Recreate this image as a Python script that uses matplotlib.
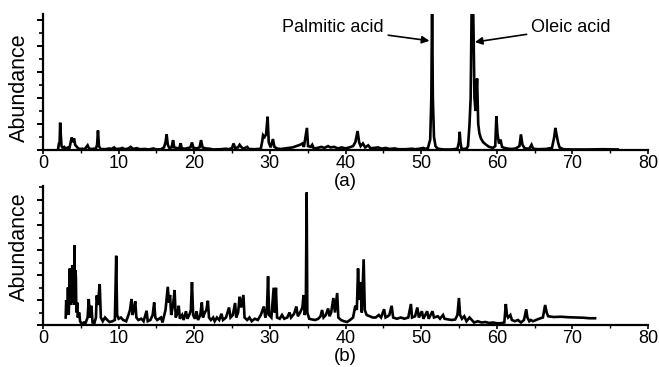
import matplotlib
matplotlib.use("Agg")
import matplotlib.pyplot as plt
from matplotlib.ticker import MultipleLocator, NullFormatter

plt.rcParams['font.family'] = ['Liberation Sans', 'DejaVu Sans']

# ---- data: panel (a) chromatogram trace (retention time, abundance) ----
time_a = [2.0, 2.1, 2.2, 2.27, 2.35, 2.45, 2.6, 2.8, 3.0, 3.3, 3.5, 3.8, 3.95, 4.1, 4.25, 4.4, 4.6, 4.8,
          5.2, 5.5, 5.9, 6.1, 6.5, 7.0, 7.15, 7.27, 7.4, 7.6, 8.2, 8.8, 9.0, 9.4, 9.6, 10.2, 10.5, 10.8,
          11.3, 11.6, 11.9, 12.4, 12.8, 13.5, 14.0, 14.6, 15.0, 15.6, 16.0, 16.2, 16.35, 16.5, 16.7,
          17.0, 17.2, 17.35, 17.6, 18.0, 18.2, 18.35, 18.8, 19.5, 19.7, 19.9, 20.3, 20.7, 20.9, 21.1,
          21.5, 22.0, 22.5, 23.5, 24.2, 24.6, 25.0, 25.2, 25.4, 25.8, 26.0, 26.2, 26.5, 27.0, 27.2,
          28.0, 28.8, 29.0, 29.1, 29.3, 29.5, 29.7, 29.85, 30.1, 30.4, 30.6, 31.0, 31.5, 32.0, 32.5,
          33.0, 33.5, 34.0, 34.3, 34.5, 34.9, 35.05, 35.4, 35.6, 35.8, 36.3, 36.8, 37.2, 37.7, 38.0,
          38.5, 39.0, 39.5, 40.0, 40.5, 41.0, 41.3, 41.6, 41.8, 42.0, 42.3, 42.6, 43.0, 43.3, 43.8,
          44.3, 44.8, 45.3, 45.8, 46.5, 47.0, 48.0, 48.8, 49.2, 49.8, 50.3, 50.6, 50.9, 51.2, 51.35,
          51.45, 51.55, 51.7, 51.9, 52.2, 53.0, 54.0, 54.8, 55.0, 55.1, 55.2, 55.35, 56.0, 56.2, 56.4,
          56.55, 56.7, 56.85, 56.95, 57.05, 57.2, 57.4, 57.55, 57.7, 57.9, 58.2, 58.6, 59.0, 59.5,
          59.8, 59.95, 60.1, 60.3, 60.5, 60.7, 61.0, 61.5, 62.0, 62.5, 63.0, 63.2, 63.4, 63.7, 64.3,
          64.6, 64.8, 65.5, 66.5, 67.3, 67.6, 67.75, 67.9, 68.1, 68.3, 68.8, 70.0, 72.0, 74.0, 76.0]
abund_a = [0.03, 0.25, 0.3, 1.05, 0.6, 0.15, 0.08, 0.12, 0.05, 0.1, 0.08, 0.48, 0.3, 0.45, 0.2, 0.15, 0.08, 0.04,
           0.05, 0.03, 0.18, 0.05, 0.04, 0.06, 0.2, 0.75, 0.15, 0.04, 0.03, 0.06, 0.03, 0.1, 0.04, 0.05, 0.08, 0.03,
           0.06, 0.12, 0.04, 0.07, 0.03, 0.04, 0.02, 0.06, 0.02, 0.03, 0.1, 0.3, 0.6, 0.2, 0.08,
           0.1, 0.38, 0.1, 0.08, 0.05, 0.26, 0.06, 0.05, 0.1, 0.29, 0.08, 0.06, 0.1, 0.38, 0.1,
           0.06, 0.05, 0.02, 0.03, 0.05, 0.03, 0.08, 0.25, 0.08, 0.1, 0.2, 0.12, 0.05, 0.12, 0.04,
           0.03, 0.05, 0.35, 0.57, 0.5, 0.6, 1.28, 0.3, 0.1, 0.42, 0.12, 0.05, 0.04, 0.06, 0.08,
           0.1, 0.15, 0.2, 0.25, 0.12, 0.85, 0.15, 0.12, 0.2, 0.06, 0.08, 0.12, 0.08, 0.15, 0.1,
           0.12, 0.06, 0.1, 0.06, 0.1, 0.15, 0.3, 0.73, 0.3, 0.15, 0.25, 0.1, 0.18, 0.07, 0.08,
           0.1, 0.05, 0.08, 0.04, 0.06, 0.03, 0.03, 0.05, 0.03, 0.05, 0.08, 0.04, 0.08, 0.4, 2.0,
           5.8, 2.0, 0.5, 0.15, 0.05, 0.02, 0.02, 0.05, 0.3, 0.7, 0.3, 0.04, 0.05, 0.15, 1.0,
           2.0, 6.0, 6.0, 4.2, 2.0, 1.5, 2.75, 1.0, 0.65, 0.45, 0.3, 0.2, 0.12, 0.08,
           0.15, 1.3, 0.6, 0.25, 0.4, 0.12, 0.08, 0.05, 0.04, 0.06, 0.15, 0.6, 0.2, 0.06, 0.05,
           0.2, 0.05, 0.03, 0.04, 0.08, 0.5, 0.85, 0.6, 0.3, 0.1, 0.03, 0.02, 0.02, 0.03, 0.02]

# ---- data: panel (b) chromatogram trace ----
time_b = [3.0, 3.07, 3.12, 3.15, 3.22, 3.3, 3.35, 3.4, 3.47, 3.54, 3.6, 3.65, 3.7, 3.75, 3.8, 3.87, 3.95,
          4.0, 4.05, 4.1, 4.16, 4.2, 4.25, 4.3, 4.35, 4.4, 4.45, 4.52, 4.6, 4.7, 4.8,
          4.9, 5.1, 5.4, 5.6, 5.9, 6.05, 6.2, 6.4, 6.55, 6.8, 7.0, 7.1, 7.25, 7.5, 7.65, 7.9, 8.2, 8.5,
          8.8, 9.2, 9.5, 9.68, 9.8, 10.0, 10.3, 10.6, 11.0, 11.3, 11.5, 11.7, 11.85, 12.0, 12.2, 12.35,
          12.6, 13.0, 13.3, 13.7, 13.85, 14.2, 14.5, 14.7, 14.85, 15.1, 15.6, 15.8, 16.2, 16.5, 16.65,
          16.8, 16.95, 17.2, 17.4, 17.55, 17.8, 17.95, 18.1, 18.4, 18.6, 18.9, 19.1, 19.4, 19.55, 19.7,
          19.85, 20.1, 20.3, 20.5, 20.8, 21.0, 21.15, 21.4, 21.6, 21.8, 21.95, 22.2, 22.5, 22.7, 23.0,
          23.3, 23.6, 23.8, 24.2, 24.4, 24.6, 24.8, 25.1, 25.4, 25.55, 25.8, 26.0, 26.2, 26.5, 26.65,
          27.0, 27.3, 27.6, 28.0, 28.4, 28.8, 29.2, 29.4, 29.6, 29.76, 29.9, 30.2, 30.5, 30.65, 30.8,
          30.95, 31.3, 31.6, 31.9, 32.3, 32.6, 32.8, 33.2, 33.5, 33.7, 34.0, 34.3, 34.45, 34.6, 34.75,
          34.86, 34.95, 35.2, 35.6, 36.0, 36.4, 36.7, 36.9, 37.1, 37.4, 37.7, 37.9, 38.1, 38.4, 38.6,
          38.9, 39.05, 39.4, 39.8, 40.2, 40.6, 41.0, 41.3, 41.5, 41.66, 41.8, 42.0, 42.15, 42.4, 42.55,
          42.8, 43.2, 43.6, 44.0, 44.4, 44.7, 45.1, 45.3, 45.6, 45.8, 46.1, 46.3, 46.8, 47.3, 47.8,
          48.3, 48.65, 48.8, 49.2, 49.5, 49.7, 50.1, 50.3, 50.8, 51.0, 51.5, 51.7, 52.2, 52.5, 52.9,
          53.1, 53.6, 54.0, 54.5, 54.8, 55.0, 55.15, 55.4, 55.7, 56.0, 56.4, 56.7, 57.0, 57.5, 58.0,
          58.5, 59.0, 59.5, 60.0, 60.5, 61.0, 61.2, 61.35, 61.5, 61.8, 62.0, 62.4, 62.8, 63.2, 63.6,
          63.9, 64.05, 64.3, 64.5, 64.8, 65.2, 65.6, 66.1, 66.4, 66.6, 66.8, 67.5, 68.5, 69.5, 70.5,
          71.5, 72.2, 73.0]
abund_b = [0.3, 1.0, 0.5, 0.9, 0.4, 1.5, 0.7, 0.4, 1.2, 2.26, 1.0, 0.8, 1.3, 1.8, 1.1, 2.4, 0.9,
           1.3, 1.5, 0.8, 3.2, 1.6, 1.2, 2.2, 1.9, 0.8, 0.5, 0.9, 0.3, 0.45, 0.5,
           0.15, 0.05, 0.1, 0.06, 0.3, 1.04, 0.3, 0.77, 0.1, 0.08, 0.3, 1.18, 0.8, 1.64, 0.3, 0.15, 0.3, 0.2,
           0.12, 0.15, 0.2, 2.77, 0.4, 0.25, 0.3, 0.2, 0.15, 0.4, 0.6, 1.04, 0.4, 0.6, 0.95, 0.3,
           0.2, 0.25, 0.15, 0.57, 0.15, 0.2, 0.4, 0.9, 0.3, 0.2, 0.3, 0.1, 0.6, 1.53, 0.9,
           1.2, 0.4, 0.8, 1.4, 0.3, 0.5, 0.77, 0.25, 0.4, 0.2, 0.55, 0.25, 0.45, 0.6, 1.72,
           0.4, 0.25, 0.55, 0.2, 0.4, 0.9, 0.3, 0.5, 0.6, 0.97, 0.3, 0.2, 0.3, 0.15, 0.3,
           0.2, 0.45, 0.2, 0.3, 0.5, 0.7, 0.3, 0.4, 0.88, 0.3, 0.5, 1.13, 0.7, 1.2, 0.3,
           0.2, 0.3, 0.15, 0.25, 0.2, 0.4, 0.74, 0.3, 0.5, 1.95, 0.4, 0.3, 1.49, 0.5, 1.49,
           0.3, 0.25, 0.4, 0.25, 0.3, 0.5, 0.3, 0.45, 0.74, 0.35, 0.5, 0.7, 1.2, 0.4, 0.6,
           5.3, 0.5, 0.25, 0.22, 0.2, 0.25, 0.35, 0.6, 0.3, 0.4, 0.66, 0.35, 0.5, 1.08, 0.5,
           1.28, 0.3, 0.2, 0.15, 0.12, 0.2, 0.3, 0.77, 0.6, 2.26, 1.0, 1.72, 0.5, 2.63, 0.6,
           0.4, 0.35, 0.3, 0.3, 0.4, 0.3, 0.63, 0.3, 0.35, 0.4, 0.77, 0.3, 0.25, 0.3, 0.25,
           0.3, 0.84, 0.3, 0.35, 0.7, 0.3, 0.55, 0.25, 0.55, 0.25, 0.55, 0.3, 0.35, 0.25, 0.4,
           0.25, 0.22, 0.2, 0.22, 0.4, 1.08, 0.4, 0.25, 0.35, 0.15, 0.3, 0.2, 0.1, 0.15, 0.1,
           0.12, 0.08, 0.1, 0.07, 0.07, 0.1, 0.84, 0.4, 0.3, 0.4, 0.2, 0.15, 0.2, 0.1, 0.2,
           0.63, 0.3, 0.15, 0.2, 0.15, 0.2, 0.25, 0.3, 0.8, 0.5, 0.35, 0.32, 0.33, 0.31, 0.3,
           0.29, 0.27, 0.27]

x_ticks = [0, 10, 20, 30, 40, 50, 60, 70, 80]
panel_labels = ["(a)", "(b)"]
y_label = "Abundance"
annotations = [("Palmitic acid", 51.1, 4.2, 45.1, 4.7, "right"),
               ("Oleic acid", 57.1, 4.15, 64.5, 4.7, "left")]

W, H = 659, 367
fig = plt.figure(figsize=(W / 100, H / 100), dpi=100)
ax_a = fig.add_axes([43 / W, 1 - 150 / H, 605 / W, 136 / H])
ax_b = fig.add_axes([43 / W, 1 - 325 / H, 605 / W, 139 / H])

for ax, t, y, lab, ytop, ylab_y in [(ax_a, time_a, abund_a, panel_labels[0], 5.23, 0.46),
                                    (ax_b, time_b, abund_b, panel_labels[1], 5.56, 0.56)]:
    ax.plot(t, y, color='black', lw=1.9, solid_joinstyle='miter')
    ax.set_xlim(0, 80)
    ax.set_ylim(0, ytop)
    for s in ['top', 'right']:
        ax.spines[s].set_visible(False)
    for s in ['left', 'bottom']:
        ax.spines[s].set_linewidth(1.6)
    ax.set_xticks(x_ticks)
    ax.xaxis.set_minor_locator(MultipleLocator(5))
    ax.yaxis.set_major_locator(MultipleLocator(1))
    ax.yaxis.set_minor_locator(MultipleLocator(0.5))
    ax.yaxis.set_major_formatter(NullFormatter())
    ax.tick_params(axis='y', which='major', direction='out', length=4, width=1.4)
    ax.tick_params(axis='y', which='minor', direction='out', length=3, width=1.2)
    ax.tick_params(axis='x', which='major', direction='out', length=3, width=1.2,
                   labelsize=13, pad=0.5)
    ax.tick_params(axis='x', which='minor', direction='out', length=2, width=1.0)
    ax.set_ylabel(y_label, fontsize=15.5)
    ax.yaxis.set_label_coords(-0.021, ylab_y)
    ax.set_xlabel(lab, fontsize=13.5, labelpad=1)
    ax.patch.set_visible(False)

for text, xh, yh, xt, yt, ha in annotations:
    ax_a.annotate(text, xy=(xh, yh), xytext=(xt, yt), ha=ha, va='center', fontsize=13,
                  arrowprops=dict(arrowstyle='-|>', color='black', lw=1.2,
                                  mutation_scale=11, shrinkA=1, shrinkB=0))

fig.savefig("out.png", dpi=100)
